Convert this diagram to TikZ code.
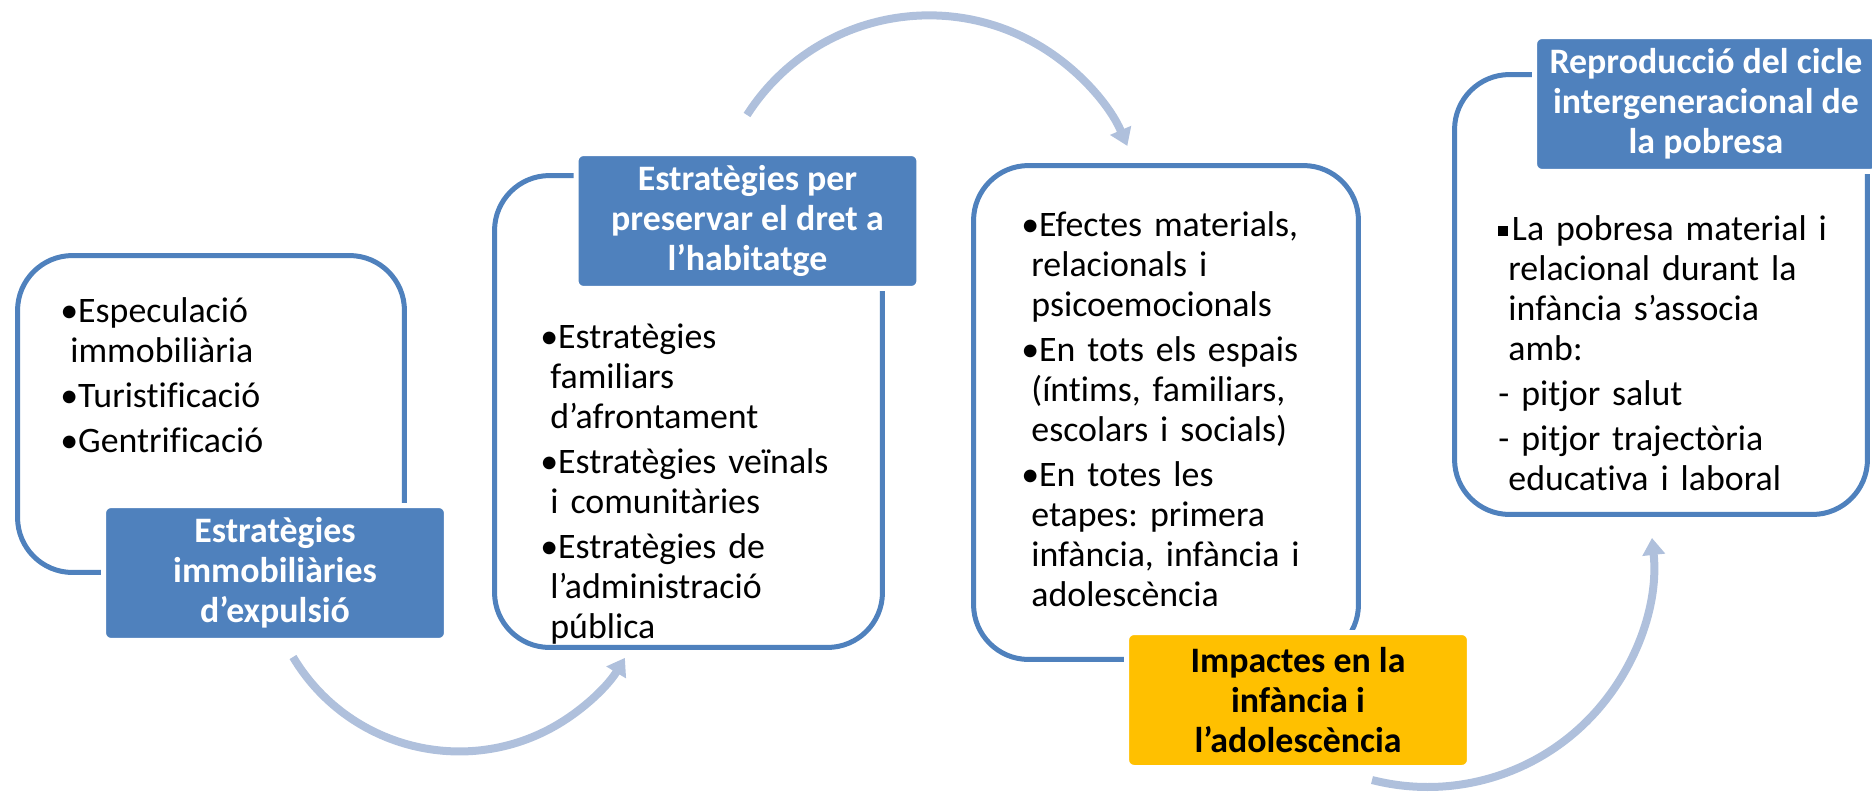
\documentclass[tikz,border=0pt]{standalone}
\usepackage{fontspec}
\setmainfont{Carlito}[Ligatures=NoCommon]
\usetikzlibrary{arrows.meta}
\definecolor{boxblue}{HTML}{4F81BD}
\definecolor{impactyellow}{HTML}{FFC000}
\definecolor{cyclegray}{HTML}{AFC0DC}
\newcommand{\ind}{\hspace*{0.28em}}
\newcommand{\sqbul}{\rule[0.1em]{0.28em}{0.28em}\hspace{0.1em}}
\frenchspacing

\begin{document}
\begin{tikzpicture}[x=0.02cm, y=-0.02cm]%, show background grid]
	\tikzset{
		ctxbox/.style={rectangle, rounded corners=1.1cm, draw=boxblue, fill=white, line width=0.1cm},
		ctxlabel/.style={rectangle, rounded corners=0.15cm, draw=white, line width=0.1cm, fill=boxblue, text=white, minimum width=6.86cm, minimum height=2.7cm, align=center, inner sep=0pt, font=\bfseries\fontsize{20.4}{22.8}\selectfont},
		ctxtext/.style={anchor=base west, inner sep=0pt, text width=7.4cm, align=left, font=\fontsize{20.4}{22.8}\selectfont},
		cyclearrow/.style={-{Triangle[width=0.44cm, length=0.34cm]}, draw=cyclegray, line width=0.16cm}
	}
	\useasboundingbox (0,0) rectangle (1872,795);

	\coordinate (arcA) at (293,657);
	\coordinate (arcB) at (747,115);
	\coordinate (arcC) at (1372,780);
	\draw[cyclearrow] (arcA) arc[start angle=149.2, end angle=31.1, radius=193.5];
	\draw[cyclearrow] (arcB) arc[start angle=-147.4, end angle=-23.3, radius=216];
	\draw[cyclearrow] (arcC) arc[start angle=104.3, end angle=-6.0, radius=225.5];

	\node[ctxbox, minimum width=7.74cm, minimum height=6.34cm] (expulsio) at (211,414) {};
	\node[ctxbox, minimum width=7.76cm, minimum height=9.44cm] (dret) at (688.5,411.5) {};
	\node[ctxbox, minimum width=7.70cm, minimum height=9.88cm] (impacte) at (1166,412.5) {};
	\node[ctxbox, minimum width=8.26cm, minimum height=8.80cm] (cicle) at (1661,294.5) {};

	\node[ctxtext] (expulsioText) at (60,322) {•Especulació\\ \ind immobiliària\\[2.8pt] •Turistificació\\[2.8pt] •Gentrificació};
	\node[ctxtext] (dretText) at (540,348) {•Estratègies\\ \ind familiars\\ \ind d’afrontament\\[2.8pt] •Estratègies veïnals\\ \ind i comunitàries\\[2.8pt] •Estratègies de\\ \ind l’administració\\ \ind pública};
	\node[ctxtext] (impacteText) at (1021,236) {•Efectes materials,\\ \ind relacionals i\\ \ind psicoemocionals\\[2.8pt] •En tots els espais\\ \ind (íntims, familiars,\\ \ind escolars i socials)\\[2.8pt] •En totes les\\ \ind etapes: primera\\ \ind infància, infància i\\ \ind adolescència};
	\node[ctxtext] (cicleText) at (1498,240) {\sqbul La pobresa material i\\ \ind relacional durant la\\ \ind infància s’associa\\ \ind amb:\\[2.8pt] - pitjor salut\\[2.8pt] - pitjor trajectòria\\ \ind educativa i laboral};

	\node[ctxlabel] (expulsioTitle) at (275,573) {Estratègies\\immobiliàries\\d’expulsió};
	\node[ctxlabel] (dretTitle) at (747.5,221) {Estratègies per\\preservar el dret a\\l’habitatge};
	\node[ctxlabel, fill=impactyellow, text=black] (impacteTitle) at (1298,700) {Impactes en la\\infància i\\l’adolescència};
	\node[ctxlabel] (cicleTitle) at (1706,104) {Reproducció del cicle\\intergeneracional de\\la pobresa};
\end{tikzpicture}
\end{document}
